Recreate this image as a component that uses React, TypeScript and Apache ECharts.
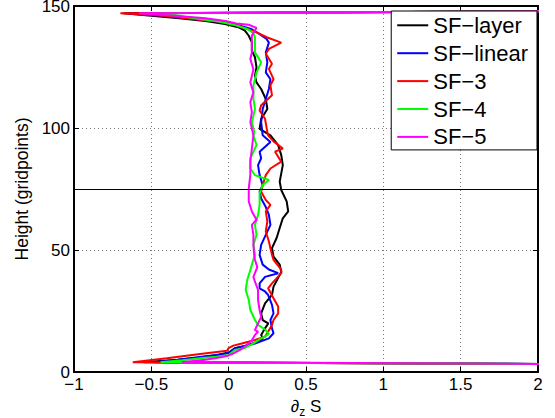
import React, { useEffect, useRef } from "react";
import * as echarts from "echarts";

// [dzS value, height (gridpoints)]
const sfLayer: number[][] = [
  [3.0, 3], [-0.55, 4], [-0.33, 5], [-0.18, 6], [-0.07, 7], [0.0, 8], [0.04, 9.7], [0.105, 10.7],
  [0.19, 12.4], [0.22, 13.8], [0.21, 15.2], [0.235, 17.9], [0.256, 19.9], [0.22, 21.3], [0.21, 24],
  [0.235, 28.1], [0.28, 31.6], [0.29, 35], [0.34, 41], [0.33, 44], [0.29, 47.3], [0.28, 50.8],
  [0.31, 54.9], [0.33, 59], [0.35, 63], [0.385, 65.8], [0.375, 69.9], [0.34, 74.6], [0.33, 78],
  [0.35, 84.8], [0.34, 88.9], [0.32, 93], [0.27, 97], [0.2, 99.6], [0.21, 103.7], [0.25, 107.8],
  [0.24, 111.9], [0.21, 116], [0.18, 118.7], [0.17, 121.4], [0.18, 124.9], [0.17, 129], [0.15, 131.7],
  [0.15, 135.1], [0.13, 137.8], [0.105, 139.9], [0.062, 141.3], [-0.024, 142.6], [-0.15, 143.8],
  [-0.32, 145], [-0.5, 146], [-0.68, 147], [2.5, 148],
];
const sfLinear: number[][] = [
  [3.0, 3], [-0.48, 4], [-0.33, 5], [-0.2, 6], [-0.08, 7], [0.0, 7.8], [0.04, 9.7], [0.085, 10.4],
  [0.17, 11.7], [0.26, 13.8], [0.29, 15.9], [0.28, 17.9], [0.27, 21.3], [0.29, 24], [0.28, 27.5],
  [0.255, 31.6], [0.235, 33], [0.2, 34.3], [0.2, 36.3], [0.235, 39], [0.32, 40.5], [0.26, 42],
  [0.22, 44], [0.2, 48], [0.21, 52.1], [0.24, 56.2], [0.27, 60.3], [0.26, 64.4], [0.24, 67.6],
  [0.21, 71.1], [0.2, 74], [0.22, 76.6], [0.2, 80.7], [0.19, 84.8], [0.21, 87.6], [0.2, 90.3],
  [0.27, 94.3], [0.22, 97], [0.21, 102.4], [0.22, 107.8], [0.24, 111.9], [0.26, 116], [0.27, 120],
  [0.24, 122.8], [0.25, 126.9], [0.24, 131], [0.26, 135], [0.245, 136.5], [0.2, 138.5],
  [0.145, 140.6], [0.07, 142], [0.0, 143], [-0.12, 144], [-0.3, 145.2], [-0.48, 146.2],
  [-0.65, 147], [2.5, 148],
];
const sf3: number[][] = [
  [3.0, 3], [-0.62, 4], [-0.4, 5.6], [-0.185, 7.4], [-0.01, 8.7], [0.0, 9.8], [0.03, 10.8],
  [0.085, 11.7], [0.17, 13.1], [0.235, 14.5], [0.255, 16.5], [0.28, 19.3], [0.29, 21.3], [0.32, 24],
  [0.32, 26.8], [0.29, 30.2], [0.255, 34.3], [0.28, 36.3], [0.34, 40.5], [0.34, 42], [0.29, 46],
  [0.28, 48], [0.26, 53.5], [0.24, 57.6], [0.25, 61.7], [0.24, 65.8], [0.27, 68.5], [0.24, 70.5],
  [0.21, 73.9], [0.22, 76.6], [0.24, 80.7], [0.27, 83.4], [0.34, 86.2], [0.3, 90.3], [0.35, 91.6],
  [0.29, 94.5], [0.255, 97], [0.25, 98.3], [0.235, 103.8], [0.2, 107.2], [0.21, 109.3], [0.28, 113.4],
  [0.27, 117.5], [0.29, 120], [0.26, 124.2], [0.28, 126.3], [0.24, 130.4], [0.26, 132.4], [0.34, 135],
  [0.25, 137.1], [0.17, 139.5], [0.1, 141], [0.03, 142.5], [-0.05, 143.5], [-0.2, 144.5],
  [-0.42, 146], [-0.7, 147], [2.5, 148],
];
const sf4: number[][] = [
  [3.0, 3], [-0.44, 4], [-0.3, 4.8], [-0.185, 5.6], [-0.08, 6.3], [0.0, 7], [0.04, 9.0], [0.1, 9.7],
  [0.16, 11.7], [0.21, 13.8], [0.26, 15.5], [0.24, 17.2], [0.19, 19.3], [0.17, 21.3], [0.14, 25.4],
  [0.13, 29.5], [0.11, 33.6], [0.12, 37.7], [0.14, 41.8], [0.15, 44], [0.17, 48], [0.16, 52.1],
  [0.18, 56.2], [0.17, 60.3], [0.19, 64.4], [0.2, 68.5], [0.2, 73.2], [0.22, 76.6], [0.26, 78.7],
  [0.17, 80.7], [0.14, 83.4], [0.14, 87.6], [0.18, 93], [0.16, 97], [0.165, 98.3], [0.15, 102.4],
  [0.17, 107.8], [0.16, 111.9], [0.16, 117.3], [0.18, 122.8], [0.21, 126.9], [0.17, 131], [0.17, 134.4],
  [0.17, 137], [0.16, 139], [0.12, 140.6], [0.05, 142], [-0.02, 143], [-0.1, 144], [-0.22, 145],
  [-0.35, 146.2], [-0.45, 147], [2.5, 148],
];
const sf5: number[][] = [
  [3.0, 3], [-0.3, 4], [-0.15, 5], [-0.05, 6], [0.0, 6.8], [0.03, 7.6], [0.08, 9.3], [0.116, 11],
  [0.15, 13], [0.17, 15.2], [0.19, 16.5], [0.17, 17.2], [0.19, 19.9], [0.21, 22.6], [0.2, 25.4],
  [0.19, 29.5], [0.19, 33.6], [0.17, 37], [0.16, 39], [0.185, 43], [0.17, 46], [0.165, 48],
  [0.16, 52.1], [0.16, 56.2], [0.15, 60.3], [0.18, 62.4], [0.15, 65.8], [0.13, 69.9], [0.13, 75.3],
  [0.14, 80.7], [0.14, 86.2], [0.15, 91.6], [0.16, 97], [0.14, 102.4], [0.15, 106.5], [0.14, 110.6],
  [0.16, 114.6], [0.14, 118.7], [0.16, 124], [0.14, 128.3], [0.15, 131], [0.15, 135], [0.15, 137.8],
  [0.16, 139], [0.18, 141], [0.13, 142.3], [0.05, 142.8], [-0.02, 143.9], [-0.15, 145], [-0.35, 146],
  [-0.58, 147], [2.5, 148],
];

const seriesNames = ["SF\u2212layer", "SF\u2212linear", "SF\u22123", "SF\u22124", "SF\u22125"];
const seriesColors = ["#000000", "#0000ff", "#ff0000", "#00ff00", "#ff00ff"];
const seriesData = [sfLayer, sfLinear, sf3, sf4, sf5];
const midHeight = 75;

const xMin = -1, xMax = 2, xStep = 0.5;
const yMin = 0, yMax = 150, yStep = 50;

const FONT = "'Liberation Sans', Arial, Helvetica, sans-serif";
const minus = (v: number) => String(v).replace("-", "\u2212");

export default function App() {
  const ref = useRef<HTMLDivElement>(null);
  useEffect(() => {
    if (!ref.current) return;
    const chart = echarts.init(ref.current, undefined, { renderer: "svg" });
    const dotted = { show: true, lineStyle: { color: "#777", type: [1, 3] as any, width: 1 } };
    const axisLine = { show: true, onZero: false, lineStyle: { color: "#000", width: 2 } };
    const tick = { show: true, inside: true, length: 5, lineStyle: { color: "#000", width: 1 } };
    chart.setOption({
      animation: false,
      backgroundColor: "#fff",
      textStyle: { fontFamily: FONT },
      grid: { left: 74, right: 17, top: 6, bottom: 46, outerBoundsMode: "none", containLabel: false },
      legend: {
        orient: "vertical",
        right: 18,
        top: 11,
        padding: [3.3, 9, 2, 6],
        itemGap: 5.9,
        itemWidth: 31,
        itemHeight: 2,
        icon: "rect",
        backgroundColor: "#fff",
        borderColor: "#000",
        borderWidth: 1,
        borderRadius: 0,
        textStyle: { fontFamily: FONT, fontSize: 22, color: "#000" },
        data: seriesNames,
      },
      xAxis: [
        {
          type: "value",
          min: xMin,
          max: xMax,
          interval: xStep,
          position: "bottom",
          axisLine,
          axisTick: tick,
          splitLine: dotted,
          axisLabel: { color: "#000", fontSize: 17, margin: 4, fontFamily: FONT, formatter: minus },
          name: "{a|\u2202}{s|z}{a| S}",
          nameLocation: "middle",
          nameGap: 21,
          nameTextStyle: {
            rich: {
              a: { fontSize: 17, color: "#000", fontFamily: FONT },
              s: { fontSize: 12, color: "#000", fontFamily: FONT, padding: [11, 0, 0, 0] },
            },
          },
        },
        {
          type: "value",
          min: xMin,
          max: xMax,
          interval: xStep,
          position: "top",
          axisLine,
          axisTick: tick,
          splitLine: { show: false },
          axisLabel: { show: false },
        },
      ],
      yAxis: [
        {
          type: "value",
          min: yMin,
          max: yMax,
          interval: yStep,
          position: "left",
          axisLine,
          axisTick: tick,
          splitLine: dotted,
          axisLabel: { color: "#000", fontSize: 17, margin: 4, fontFamily: FONT },
          name: "Height (gridpoints)",
          nameLocation: "middle",
          nameGap: 37,
          nameTextStyle: { color: "#000", fontSize: 17.5, fontFamily: FONT },
        },
        {
          type: "value",
          min: yMin,
          max: yMax,
          interval: yStep,
          position: "right",
          axisLine,
          axisTick: tick,
          splitLine: { show: false },
          axisLabel: { show: false },
        },
      ],
      series: seriesData.map((d, i) => ({
        name: seriesNames[i],
        type: "line",
        xAxisIndex: 0,
        yAxisIndex: 0,
        data: d,
        symbol: "none",
        showSymbol: false,
        clip: true,
        lineStyle: { color: seriesColors[i], width: 2 },
        itemStyle: { color: seriesColors[i] },
        ...(i === seriesData.length - 1
          ? {
              markLine: {
                silent: true,
                symbol: ["none", "none"],
                label: { show: false },
                lineStyle: { color: "#000", width: 1, type: "solid" },
                data: [{ yAxis: midHeight }],
              },
            }
          : {}),
      })),
    });
    return () => chart.dispose();
  }, []);
  return (
    <div
      ref={ref}
      style={{ position: "fixed", left: 0, top: 0, width: 555, height: 418 }}
    />
  );
}
